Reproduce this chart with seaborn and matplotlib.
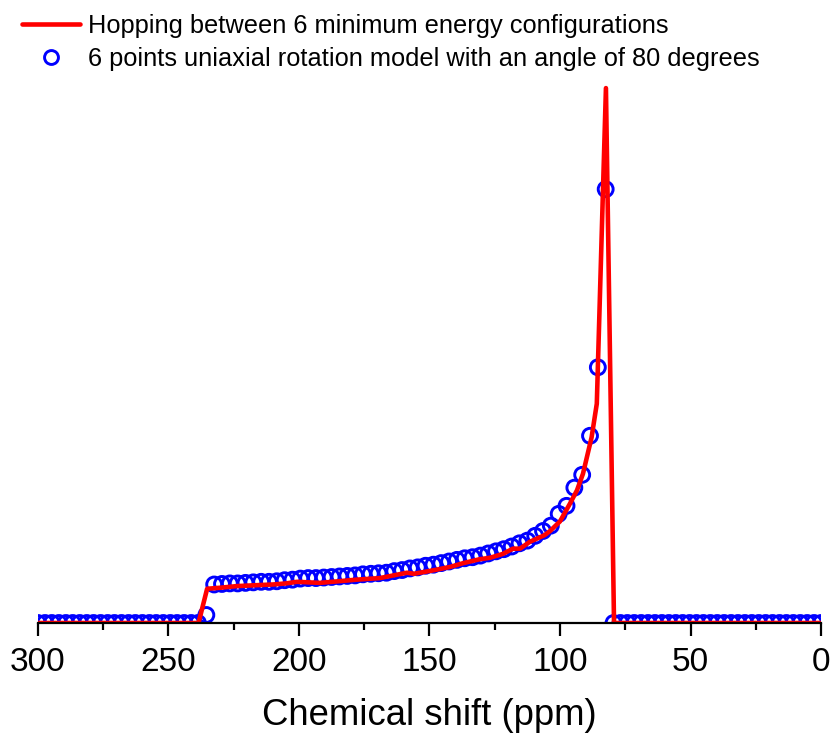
import numpy as np
import pandas as pd
import seaborn as sns
import matplotlib
matplotlib.use("Agg")
import matplotlib.pyplot as plt
from matplotlib.lines import Line2D
from matplotlib.ticker import MultipleLocator

sns.set_theme(style="white")
plt.rcParams['font.family'] = ['Liberation Sans', 'DejaVu Sans']
plt.rcParams['text.color'] = 'black'
plt.rcParams['axes.labelcolor'] = 'black'
plt.rcParams['xtick.color'] = 'black'

# ---- data: hopping model (red line) ----
hop_x = [300.0, 238.5, 235.2, 230.0, 223.8, 215.0, 210.0, 205.0, 200.8, 192.0,
         185.0, 178.0, 169.0, 158.6, 156.0, 148.0, 142.0, 137.0, 131.0, 126.8,
         122.0, 118.0, 115.3, 111.5, 106.0, 103.8, 100.0, 96.2, 93.5, 91.2,
         87.9, 85.9, 82.4, 79.3, 0.0]
hop_y = [0.0, 0.0, 6.4, 6.6, 6.9, 7.1, 7.2, 7.4, 7.7, 7.5,
         7.8, 8.1, 8.4, 9.4, 9.2, 9.9, 10.5, 11.2, 11.9, 12.2,
         12.9, 13.9, 13.9, 15.2, 16.4, 17.2, 19.0, 22.3, 24.8, 27.9,
         34.7, 41.0, 100.0, 0.0, 0.0]

# ---- data: 6-point uniaxial rotation model (blue circles) ----
rot_x = [300.0, 297.3, 294.7, 292.0, 289.3, 286.7, 284.0, 281.3, 278.7, 276.0,
         273.3, 270.7, 268.0, 265.3, 262.7, 260.0, 257.3, 254.7, 252.0, 249.3,
         246.7, 244.0, 241.3, 238.7, 235.5,
         232.5, 229.5, 226.5, 223.5, 220.5, 217.5, 214.5, 211.5, 208.5, 205.5,
         202.5, 199.5, 196.5, 193.5, 190.5, 187.5, 184.5, 181.5, 178.5, 175.5,
         172.5, 169.5, 166.5, 163.5, 160.5, 157.5, 154.5, 151.5, 148.5, 145.5,
         142.5, 139.5, 136.5, 133.5, 130.5, 127.5, 124.5, 121.5, 118.5, 115.5,
         112.5, 109.5, 106.5, 103.5, 100.5, 97.5, 94.5, 91.5, 88.5, 85.5,
         82.5,
         79.5, 76.85, 74.2, 71.55, 68.9, 66.25, 63.6, 60.95, 58.3, 55.65,
         53.0, 50.35, 47.7, 45.05, 42.4, 39.75, 37.1, 34.45, 31.8, 29.15,
         26.5, 23.85, 21.2, 18.55, 15.9, 13.25, 10.6, 7.95, 5.3, 2.65, 0.0]
rot_y = [0.0] * 24 + [1.5] + [
         7.2, 7.3, 7.4, 7.4, 7.5, 7.6, 7.7, 7.7, 7.8, 8.0,
         8.1, 8.3, 8.4, 8.4, 8.5, 8.6, 8.7, 8.8, 8.9, 9.1,
         9.2, 9.3, 9.4, 9.7, 9.9, 10.2, 10.4, 10.7, 10.9, 11.2,
         11.5, 11.8, 12.1, 12.3, 12.6, 13.0, 13.4, 13.8, 14.3, 14.9,
         15.4, 16.3, 17.2, 18.2, 20.4, 21.9, 25.3, 27.7, 35.0, 47.8,
         81.1] + [0.0] * 31

xticks = [300, 250, 200, 150, 100, 50, 0]
xlabel = "Chemical shift (ppm)"
label_hop = "Hopping between 6 minimum energy configurations"
label_rot = "6 points uniaxial rotation model with an angle of 80 degrees"

hop = pd.DataFrame({"x": hop_x, "y": hop_y})
rot = pd.DataFrame({"x": rot_x, "y": rot_y})

W, H = 833, 736
fig = plt.figure(figsize=(W / 100, H / 100), dpi=100)
ax = fig.add_axes([38 / W, (H - 623) / H, (821 - 38) / W, (623 - 10) / H])

sns.scatterplot(data=rot, x="x", y="y", ax=ax, marker="o", s=115,
                facecolor="none", edgecolor="#0000ff", linewidth=2.1,
                zorder=2, legend=False)
sns.lineplot(data=hop, x="x", y="y", ax=ax, sort=False, color="#ff0000",
             linewidth=3.3, zorder=3, legend=False)

ax.set_xlim(300, 0)
ax.set_ylim(0, 114.6)
ax.set_xticks(xticks)
ax.set_xticklabels([str(t) for t in xticks])
ax.xaxis.set_minor_locator(MultipleLocator(25))
ax.set_yticks([])
ax.set_ylabel("")
ax.set_xlabel(xlabel, fontsize=26.3, labelpad=15, color="black")

for s in ["top", "left", "right"]:
    ax.spines[s].set_visible(False)
ax.spines["bottom"].set_color("black")
ax.spines["bottom"].set_linewidth(1.6)
ax.spines["bottom"].set_zorder(4)
ax.tick_params(axis="x", which="major", direction="out", length=9, width=1.6,
               color="black", labelcolor="black", labelsize=24, pad=8,
               bottom=True)
ax.tick_params(axis="x", which="minor", direction="out", length=5, width=1.6,
               color="black", bottom=True)
ax.patch.set_alpha(0)

handles = [
    Line2D([], [], color="#ff0000", linewidth=3.3),
    Line2D([], [], color="none", marker="o", markersize=10,
           markerfacecolor="none", markeredgecolor="#0000ff",
           markeredgewidth=2.1),
]
leg = fig.legend(handles, [label_hop, label_rot], loc="upper left",
                 bbox_to_anchor=(22 / W, 1 - 14 / H), frameon=False,
                 fontsize=18.3, handlelength=2.3, handletextpad=0.3,
                 labelspacing=0.36, borderpad=0, borderaxespad=0)
for t in leg.get_texts():
    t.set_color("black")

fig.savefig("out.png", dpi=100)
